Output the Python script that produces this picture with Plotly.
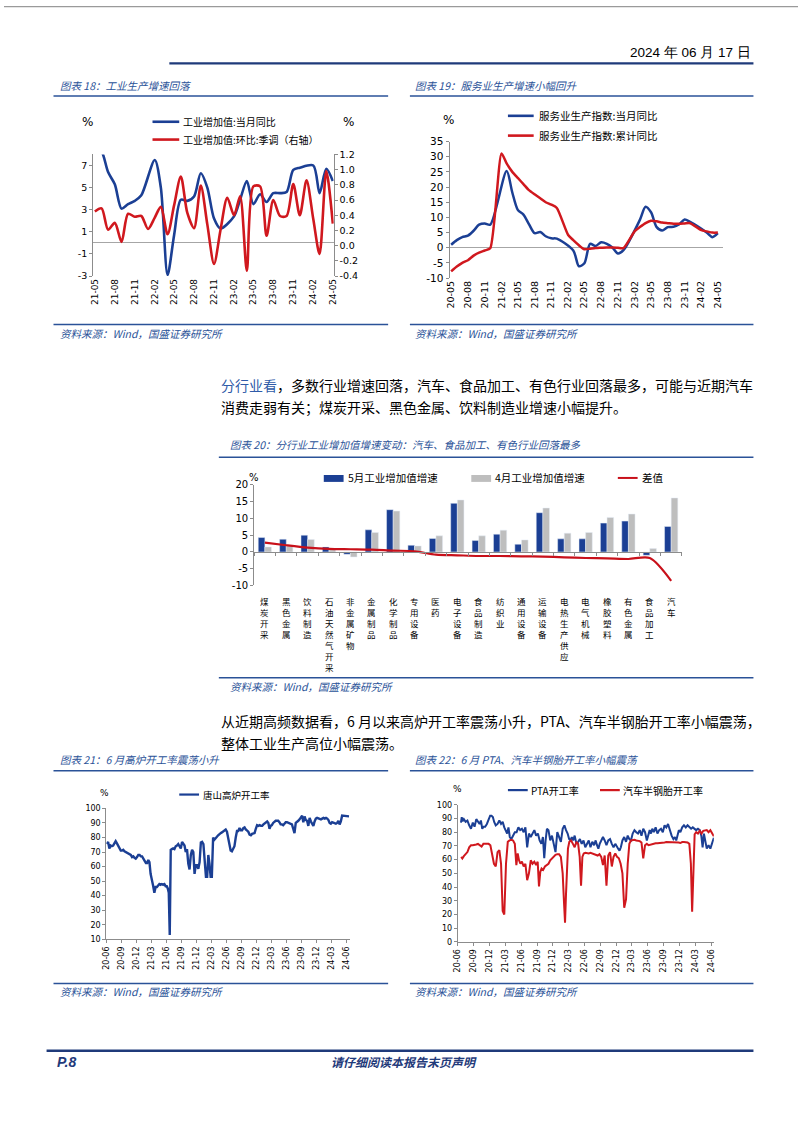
import pandas as pd
import plotly.graph_objects as go

W, H = 802, 1133
def fx(x): return x / W
def fy(y): return 1 - y / H

BLUE = "#1B3F94"
RED = "#D0181E"
GRAYBAR = "#BEBEBE"
NAVY = "#1F3A7A"
TBLUE = "#2A5298"
AX = "#8C8C8C"
CJK = "Noto Sans CJK SC"
NUM = "DejaVu Sans"

# ---------------- Chart 18 data ----------------
ip_months = ["2021-05","2021-06","2021-07","2021-08","2021-09","2021-10","2021-11","2021-12",
             "2022-02","2022-03","2022-04","2022-05","2022-06","2022-07","2022-08","2022-09","2022-10","2022-11","2022-12",
             "2023-02","2023-03","2023-04","2023-05","2023-06","2023-07","2023-08","2023-09","2023-10","2023-11","2023-12",
             "2024-02","2024-03","2024-04","2024-05"]
ip_yoy = [8.8,8.3,6.4,5.3,3.1,3.5,3.8,4.3,
          7.5,5.0,-2.9,0.7,3.9,3.8,4.2,6.3,5.0,2.2,1.3,
          2.4,3.9,5.6,3.5,4.4,3.7,4.5,4.5,4.6,6.6,6.8,
          7.0,4.5,6.7,5.6]
mom_months = [str(p) for p in pd.period_range("2021-05", "2024-05", freq="M")]
ip_mom = [0.45,0.49,0.21,0.30,0.05,0.42,0.38,0.39,
          0.22,0.37,0.51,0.15,0.53,0.91,0.43,0.23,0.79,0.28,-0.24,0.21,
          0.63,0.40,0.65,-0.33,0.78,0.78,0.13,0.60,0.39,0.39,0.81,0.40,
          0.86,0.35,-0.11,0.98,0.29]
ip_left_ticks = [-3, -1, 1, 3, 5, 7]
ip_right_ticks = [-0.4, -0.2, 0.0, 0.2, 0.4, 0.6, 0.8, 1.0, 1.2]

# ---------------- Chart 19 data ----------------
svc_m_months = ["2020-05","2020-06","2020-07","2020-08","2020-09","2020-10","2020-11","2020-12",
                "2021-03","2021-04","2021-05","2021-06","2021-07","2021-08","2021-09","2021-10","2021-11","2021-12",
                "2022-03","2022-04","2022-05","2022-06","2022-07","2022-08","2022-09","2022-10","2022-11","2022-12",
                "2023-03","2023-04","2023-05","2023-06","2023-07","2023-08","2023-09","2023-10","2023-11","2023-12",
                "2024-03","2024-04","2024-05"]
svc_yoy = [1.0,2.5,3.5,4.0,5.6,7.6,8.0,7.6,
           25.3,18.2,12.5,10.9,7.8,4.8,5.2,3.8,3.1,3.0,
           -0.9,-6.1,-5.1,1.3,0.6,1.8,1.3,0.1,-1.9,-0.8,
           9.2,13.5,11.7,6.8,5.7,6.8,6.9,7.7,9.3,8.5,
           5.0,3.5,4.8]
svc_c_months = ["2020-05","2020-06","2020-07","2020-08","2020-09","2020-10","2020-11","2020-12",
                "2021-02","2021-03","2021-04","2021-05","2021-06","2021-07","2021-08","2021-09","2021-10","2021-11","2021-12",
                "2022-02","2022-03","2022-04","2022-05","2022-06","2022-07","2022-08","2022-09","2022-10","2022-11","2022-12",
                "2023-02","2023-03","2023-04","2023-05","2023-06","2023-07","2023-08","2023-09","2023-10","2023-11","2023-12",
                "2024-02","2024-03","2024-04","2024-05"]
svc_cum = [-7.8,-6.2,-5.0,-4.1,-2.6,-1.6,-0.9,-0.2,
           31.1,27.8,25.0,23.0,21.0,19.0,17.6,16.3,15.0,14.2,13.1,
           4.2,2.5,0.8,-0.5,-0.3,-0.1,0.0,0.1,0.1,0.0,-0.1,
           5.5,6.8,8.1,8.9,8.7,8.3,8.1,7.9,7.9,8.0,8.1,
           5.8,5.4,5.0,5.0]
svc_ticks = [-10, -5, 0, 5, 10, 15, 20, 25, 30, 35]

# ---------------- Chart 20 data ----------------
industries = ["煤炭开采","黑色金属","饮料制造","石油天然气开采","非金属矿物","金属制品","化学制品","专用设备",
              "医药","电子设备","食品制造","纺织业","通用设备","运输设备","电热生产供应","电气机械",
              "橡胶塑料","有色金属","食品加工","汽车"]
va_may = [4.3,3.8,5.0,1.5,-0.7,6.6,12.6,2.0,4.0,14.5,3.4,5.3,2.3,11.7,3.9,3.9,8.6,9.2,-1.0,7.6]
va_apr = [1.5,1.8,3.7,0.7,-1.5,5.8,12.2,1.8,4.8,15.5,4.8,6.5,3.6,13.1,5.6,5.8,10.3,11.3,1.0,16.1]
va_diff = [2.8,2.0,1.3,0.9,0.8,0.7,0.4,0.2,-0.8,-1.0,-1.2,-1.2,-1.3,-1.4,-1.6,-1.8,-1.9,-2.1,-1.8,-8.6]
va_ticks = [-10, -5, 0, 5, 10, 15, 20]

# ---------------- Chart 21 / 22 data (weekly readings grouped by month) ----------------
wk_months = [str(p) for p in pd.period_range("2020-06", "2024-06", freq="M")]
tangshan = [
    [75.5,77,72.5,74.5],[74,74.5,76,77.5],[76,74.5,72.5,71],[71,71.5,70.5,70],[70,69,68.5,68],
    [66.5,67,66,65.5],[66.5,68,68,67],[67,65,64,62.5],[62.5,64.5,63,55],[52,47,42,46],
    [46,47,48,47.5],[48,47.5,48,46.5],[46.5,45,42,13,71.5],[72,72.5,72,74],[74.5,75.5,74,72.5],
    [77,76,74.5,70],[72,62,58,68],[71.5,70,55,61],[61,58.5,63,76.5],[77,75.5,66,53],
    [53,68,62,53],[53,80,78.5,80],[80.5,81.5,82.5,83],[83.5,84,85,85.5],[84,80,74,71],
    [70.5,72,74,80],[84.5,84.5,86.5,85],[85,86.5,87,85.5],[85,84,82,81.5],[82.5,82.5,83,86],
    [88.5,88,88.5,88],[88,89,89.5,90.5],[91,90,86,88],[88.5,90,91,91.5],[91.5,91.5,90.5,89],
    [89,88.5,89.5,90.5],[90.5,90,89.5,89],[89,86,83,90],[90.5,91.5,92.5,94],[95,90.5,94.5,92],
    [91.5,88,93.5,91],[89,88,91,93],[93.5,93,92.5,92.5],[93,93.5,93,93.5],[93,92,90,89.5],
    [90.5,90,89.5,89.5],[90,91.5,89,91],[95,95,94.5,95],[94.5]]
pta = [
    [87,91,88],[89.5,87.5,88.5],[85,82.5,87],[84,89.5,88],[86,88.5,82.5,84],
    [84,86,89.5],[92,92,91,87.5],[85,86,88.5],[86,87.5,83.5],[81,79,83.5,76.5],
    [75,77.5,80],[80,83.5,81.5],[82.5,80,83.5],[69,79,76.5],[79,81.5,77.5],
    [79,74,71.5],[76.5,61,74,82.5],[81.5,74,77.5],[71.5,65.5,80],[76.5,73,82.5],
    [85,81.5,79],[75,74,76.5,74],[77.5,71.5,73],[75,71.5,74],[69,71.5,74],
    [69,73,70.5],[74,70.5,68,71.5],[74,76.5,74],[70.5,74,75],[71.5,69,71.5],
    [69,68,66.5,69],[74,76.5,73],[77.5,75,74],[79,81.5,80],[79,81.5,77.5],
    [82.5,80,74],[79,81.5,79,82.5],[80,83.5,79],[81.5,82.5,80],[85,83.5,86],
    [81.5,77.5,75],[76.5,74,77.5,81.5],[80,83.5,85],[83.5,85,83.5],[82.5,83.5,82.5],
    [81.5,82.5,81.5],[77.5,69,79,75],[68,70.5,68],[76]]
tyre = [
    [62,60.8],[62.5,64,65.5],[69,70.5,70.5],[70.5,71,71.5],[70.5,69.5,71.5],
    [71.5,71.5,71.5],[70.5,63,57],[55,65.5,67],[57,22.5,20],[57,73,74],
    [74.5,74,71.5],[56,64.5,59.5,57],[58.5,55,57],[45,50,59.5],[57,58.5,56],
    [58.5,40.5,51,53.5],[52.5,55,56],[57,59.5,61],[62,63.5,64],[64,62,50],
    [28,14,35,55,68],[73,74,71.5],[69,73,71.5],[62,41,62,64.5],[65,64.5,64.5],
    [65,64.5,64.5],[64,63,64],[62,56,63],[41,63,65.5],[55,62,64.5],
    [62,61,57],[50,25,31],[57,71.5,74],[74.5,74.5,74],[74,73.5,72.5],
    [61,70.5,71.5],[70.5,71,71.5],[71.5,72,72],[72,72.5,72.5],[72.5,72.8,72.8],
    [72.8,72.8,72.8],[72.8,72.8,72.5],[72.1,72.8,72.8],[72.8,72.5,71.5],[57,22,45,78.5],
    [80,79,81],[79,81,81.5],[81.5,80,81.5],[77]]
pta_start = 0.55   # PTA / tyre series begin part way into 2020-06


def expand(months, groups, first_from=0.0):
    xs, ys = [], []
    for k, (m, vals) in enumerate(zip(months, groups)):
        start = pd.Timestamp(m + "-01")
        days = start.days_in_month
        n = len(vals)
        lo = first_from if k == 0 else 0.0
        for i, v in enumerate(vals):
            frac = lo + (1 - lo) * (i + 0.5) / n
            xs.append(start + pd.Timedelta(days=days * frac))
            ys.append(v)
    return xs, ys

ts_x, ts_y = expand(wk_months, tangshan)
pta_x, pta_y = expand(wk_months, pta, pta_start)
ty_x, ty_y = expand(wk_months, tyre, pta_start)

def labels(vals, fmt="{:g}"):
    return [fmt.format(v).replace("\u2212", "-") for v in vals]

fig = go.Figure()

# Chart 18
fig.add_trace(go.Scatter(x=pd.to_datetime(ip_months), y=ip_yoy, xaxis="x", yaxis="y", mode="lines",
                         line=dict(color=BLUE, width=2.6, shape="spline", smoothing=0.8)))
fig.add_trace(go.Scatter(x=pd.to_datetime(mom_months), y=ip_mom, xaxis="x", yaxis="y2", mode="lines",
                         line=dict(color=RED, width=2.6, shape="spline", smoothing=0.8)))
# Chart 19
fig.add_trace(go.Scatter(x=pd.to_datetime(svc_m_months), y=svc_yoy, xaxis="x3", yaxis="y3", mode="lines",
                         line=dict(color=BLUE, width=2.5, shape="spline", smoothing=0.8)))
fig.add_trace(go.Scatter(x=pd.to_datetime(svc_c_months), y=svc_cum, xaxis="x3", yaxis="y3", mode="lines",
                         line=dict(color=RED, width=2.5, shape="spline", smoothing=0.6)))
# Chart 20
fig.add_trace(go.Bar(x=industries, y=va_may, xaxis="x4", yaxis="y4", marker=dict(color=BLUE), offsetgroup="a"))
fig.add_trace(go.Bar(x=industries, y=va_apr, xaxis="x4", yaxis="y4", marker=dict(color=GRAYBAR), offsetgroup="b"))
fig.add_trace(go.Scatter(x=industries, y=va_diff, xaxis="x4", yaxis="y4", mode="lines",
                         line=dict(color="#C8101A", width=2.2, shape="spline", smoothing=0.8)))
# Chart 21
fig.add_trace(go.Scatter(x=ts_x, y=ts_y, xaxis="x5", yaxis="y5", mode="lines",
                         line=dict(color=BLUE, width=2.4)))
# Chart 22
fig.add_trace(go.Scatter(x=pta_x, y=pta_y, xaxis="x6", yaxis="y6", mode="lines",
                         line=dict(color=BLUE, width=2.0)))
fig.add_trace(go.Scatter(x=ty_x, y=ty_y, xaxis="x6", yaxis="y6", mode="lines",
                         line=dict(color=RED, width=2.0)))

def yax(dom, rng, dtick, size, **kw):
    d = dict(domain=[fy(dom[1]), fy(dom[0])], range=rng, dtick=dtick, showgrid=False,
             showline=True, linecolor=AX, linewidth=1, ticks="outside", ticklen=3, tickcolor=AX,
             zeroline=False, tickfont=dict(family=NUM, size=size, color="#000"), fixedrange=True)
    d.update(kw)
    return d

def xdate(dom, rng, tick0, size, **kw):
    d = dict(domain=[fx(dom[0]), fx(dom[1])], range=rng, type="date", tick0=tick0, dtick="M3",
             tickformat="%y-%m", tickangle=-90, showgrid=False, zeroline=False,
             tickfont=dict(family=NUM, size=size, color="#000"), fixedrange=True)
    d.update(kw)
    return d

layout = dict(
    width=W, height=H, margin=dict(l=0, r=0, t=0, b=0), autosize=False,
    paper_bgcolor="white", plot_bgcolor="white", showlegend=False,
    barmode="group", bargap=0.38, bargroupgap=0.0,
    xaxis=xdate((90, 333), ["2021-04-23", "2024-05-05"], "2021-05-01", 9,
                anchor="y", showline=False, ticks=""),
    yaxis=yax((150, 273), [-3, 8], None, 9.5, anchor="x", tickmode="array",
              tickvals=ip_left_ticks, ticktext=labels(ip_left_ticks),
              zeroline=True, zerolinecolor="#A6A6A6", zerolinewidth=1),
    yaxis2=dict(overlaying="y", side="right", anchor="x", range=[-0.4, 1.2], tickmode="array",
                tickvals=ip_right_ticks, ticktext=labels(ip_right_ticks, "{:.1f}"),
                showgrid=False, showline=True, linecolor=AX, ticks="outside", ticklen=3, tickcolor=AX,
                zeroline=False, tickfont=dict(family=NUM, size=9.5, color="#000"), fixedrange=True),
    xaxis3=xdate((450, 726), ["2020-04-22", "2024-05-28"], "2020-05-01", 9.5,
                 anchor="y3", showline=False, ticks=""),
    yaxis3=yax((137, 275), [-10, 35], None, 10.5, anchor="x3", tickmode="array",
               tickvals=svc_ticks, ticktext=labels(svc_ticks),
               zeroline=True, zerolinecolor="#A6A6A6", zerolinewidth=1),
    xaxis4=dict(domain=[fx(252.7), fx(684.7)], type="category", anchor="free", position=fy(551.7),
                showline=True, linecolor=AX, ticks="outside", tickson="boundaries", ticklen=3, tickcolor=AX,
                showticklabels=False, showgrid=False, zeroline=False, fixedrange=True),
    yaxis4=yax((484, 585.7), [-10, 20], None, 10, anchor="x4", tickmode="array",
               tickvals=va_ticks, ticktext=labels(va_ticks)),
    xaxis5=xdate((103.3, 349), ["2020-06-01", "2024-06-19"], "2020-06-01", 8,
                 anchor="y5", showline=True, linecolor=AX, ticks="outside", ticklen=3, tickcolor=AX),
    yaxis5=yax((811, 943.3), [10, 100], 10, 8, anchor="x5"),
    xaxis6=xdate((458.3, 717), ["2020-06-01", "2024-06-16"], "2020-06-01", 8,
                 anchor="y6", showline=True, linecolor=AX, ticks="outside", ticklen=3, tickcolor=AX),
    yaxis6=yax((807.3, 946), [0, 100], 10, 8, anchor="x6"),
)
fig.update_layout(**layout)

ann = []
shapes = []

def text(x, y, s, size=10, color="#000", anchor="left", family=CJK, **kw):
    a = dict(x=fx(x), y=fy(y), xref="paper", yref="paper", text=s, showarrow=False,
             xanchor=anchor, yanchor="middle", font=dict(family=family, size=size, color=color))
    a.update(kw)
    ann.append(a)

def hline(x0, x1, y, color=NAVY, width=1.5):
    shapes.append(dict(type="line", xref="paper", yref="paper", x0=fx(x0), x1=fx(x1), y0=fy(y), y1=fy(y),
                       line=dict(color=color, width=width)))

def rect(x0, x1, y0, y1, color):
    shapes.append(dict(type="rect", xref="paper", yref="paper", x0=fx(x0), x1=fx(x1), y0=fy(y1), y1=fy(y0),
                       line=dict(width=0), fillcolor=color))

SRC = "<i>资料来源：Wind，国盛证券研究所</i>"

# header / footer
hline(0, 802, 0.6, color="#9A9A9A", width=1.2)
text(757, 47, "2024 年 06 月 17 日", size=13.5, anchor="right", family="Liberation Sans Narrow, Liberation Sans")
hline(167, 757, 58, color=NAVY, width=2.2)
hline(43, 757, 1056, color=NAVY, width=2.5)
text(52, 1067, "<b><i>P.8</i></b>", size=14, color=NAVY, family="Liberation Sans")
text(404, 1067, "<b><i>请仔细阅读本报告末页声明</i></b>", size=12, color=NAVY, anchor="center")

# chart 18
text(55, 80, "<i>图表 18：工业生产增速回落</i>", size=10.5, color=TBLUE)
hline(50, 388, 91, color=TBLUE, width=1.5)
text(84, 117, "%", size=12, anchor="center", family=NUM)
text(348, 117, "%", size=12, anchor="center", family=NUM)
hline(150, 177, 117, color=BLUE, width=2.6)
text(179, 117, "工业增加值:当月同比", size=10)
hline(150, 177, 135, color=RED, width=2.6)
text(179, 135, "工业增加值:环比:季调（右轴）", size=10)
hline(50, 388, 322, color=TBLUE, width=1.5)
text(55, 331, SRC, size=10.5, color=TBLUE)

# chart 19
text(413, 80, "<i>图表 19：服务业生产增速小幅回升</i>", size=10.5, color=TBLUE)
hline(410, 757, 91, color=TBLUE, width=1.5)
text(449, 115, "%", size=12, anchor="center", family=NUM)
hline(509, 535, 111, color=BLUE, width=2.6)
text(538, 111, "服务业生产指数:当月同比", size=10.5)
hline(509, 535, 131, color=RED, width=2.6)
text(538, 131, "服务业生产指数:累计同比", size=10.5)
hline(410, 757, 322, color=TBLUE, width=1.5)
text(413, 331, SRC, size=10.5, color=TBLUE)

# paragraph 1
text(217, 383, "<span style='color:#2F5BA8'>分行业看</span>，多数行业增速回落，汽车、食品加工、有色行业回落最多，可能与近期汽车", size=14)
text(217, 405, "消费走弱有关；煤炭开采、黑色金属、饮料制造业增速小幅提升。", size=14)

# chart 20
text(226, 443, "<i>图表 20：分行业工业增加值增速变动：汽车、食品加工、有色行业回落最多</i>", size=10.5, color=TBLUE)
hline(217, 757, 456, color=TBLUE, width=1.5)
text(253, 477, "%", size=10, anchor="center", family=NUM)
rect(323, 343, 474, 481, BLUE)
text(345, 477, "5月工业增加值增速", size=10.5)
rect(472, 492, 474, 481, GRAYBAR)
text(494, 477, "4月工业增加值增速", size=10.5)
hline(620, 640, 477, color="#C8101A", width=2)
text(642, 477, "差值", size=10.5)
for name in industries:
    ann.append(dict(x=name, y=fy(593), xref="x4", yref="paper", text="<br>".join(list(name)),
                    showarrow=False, xanchor="center", yanchor="top",
                    font=dict(family=CJK, size=8.5, color="#000")))
hline(217, 757, 679, color=TBLUE, width=1.5)
text(226, 688, SRC, size=10.5, color=TBLUE)

# paragraph 2
text(217, 723, "从近期高频数据看，6 月以来高炉开工率震荡小升，PTA、汽车半钢胎开工率小幅震荡，", size=14)
text(217, 745, "整体工业生产高位小幅震荡。", size=14)

# chart 21
text(55, 762, "<i>图表 21：6 月高炉开工率震荡小升</i>", size=10.5, color=TBLUE)
hline(50, 388, 773, color=TBLUE, width=1.5)
text(101.7, 795, "%", size=9, anchor="center", family=NUM)
hline(177, 197, 797, color=BLUE, width=2.2)
text(199, 797, "唐山高炉开工率", size=9.5)
hline(50, 388, 988, color=TBLUE, width=1.5)
text(55, 996, SRC, size=10.5, color=TBLUE)

# chart 22
text(413, 762, "<i>图表 22：6 月 PTA、汽车半钢胎开工率小幅震荡</i>", size=10.5, color=TBLUE)
hline(410, 757, 773, color=TBLUE, width=1.5)
text(457.7, 791, "%", size=9, anchor="center", family=NUM)
hline(509, 529, 792.5, color=BLUE, width=2.2)
text(530, 792.5, "PTA开工率", size=10)
hline(602, 622, 792.5, color=RED, width=2.2)
text(623, 792.5, "汽车半钢胎开工率", size=10)
hline(410, 757, 988, color=TBLUE, width=1.5)
text(413, 996, SRC, size=10.5, color=TBLUE)

fig.update_layout(annotations=ann, shapes=shapes)
fig.write_html("out.html")
